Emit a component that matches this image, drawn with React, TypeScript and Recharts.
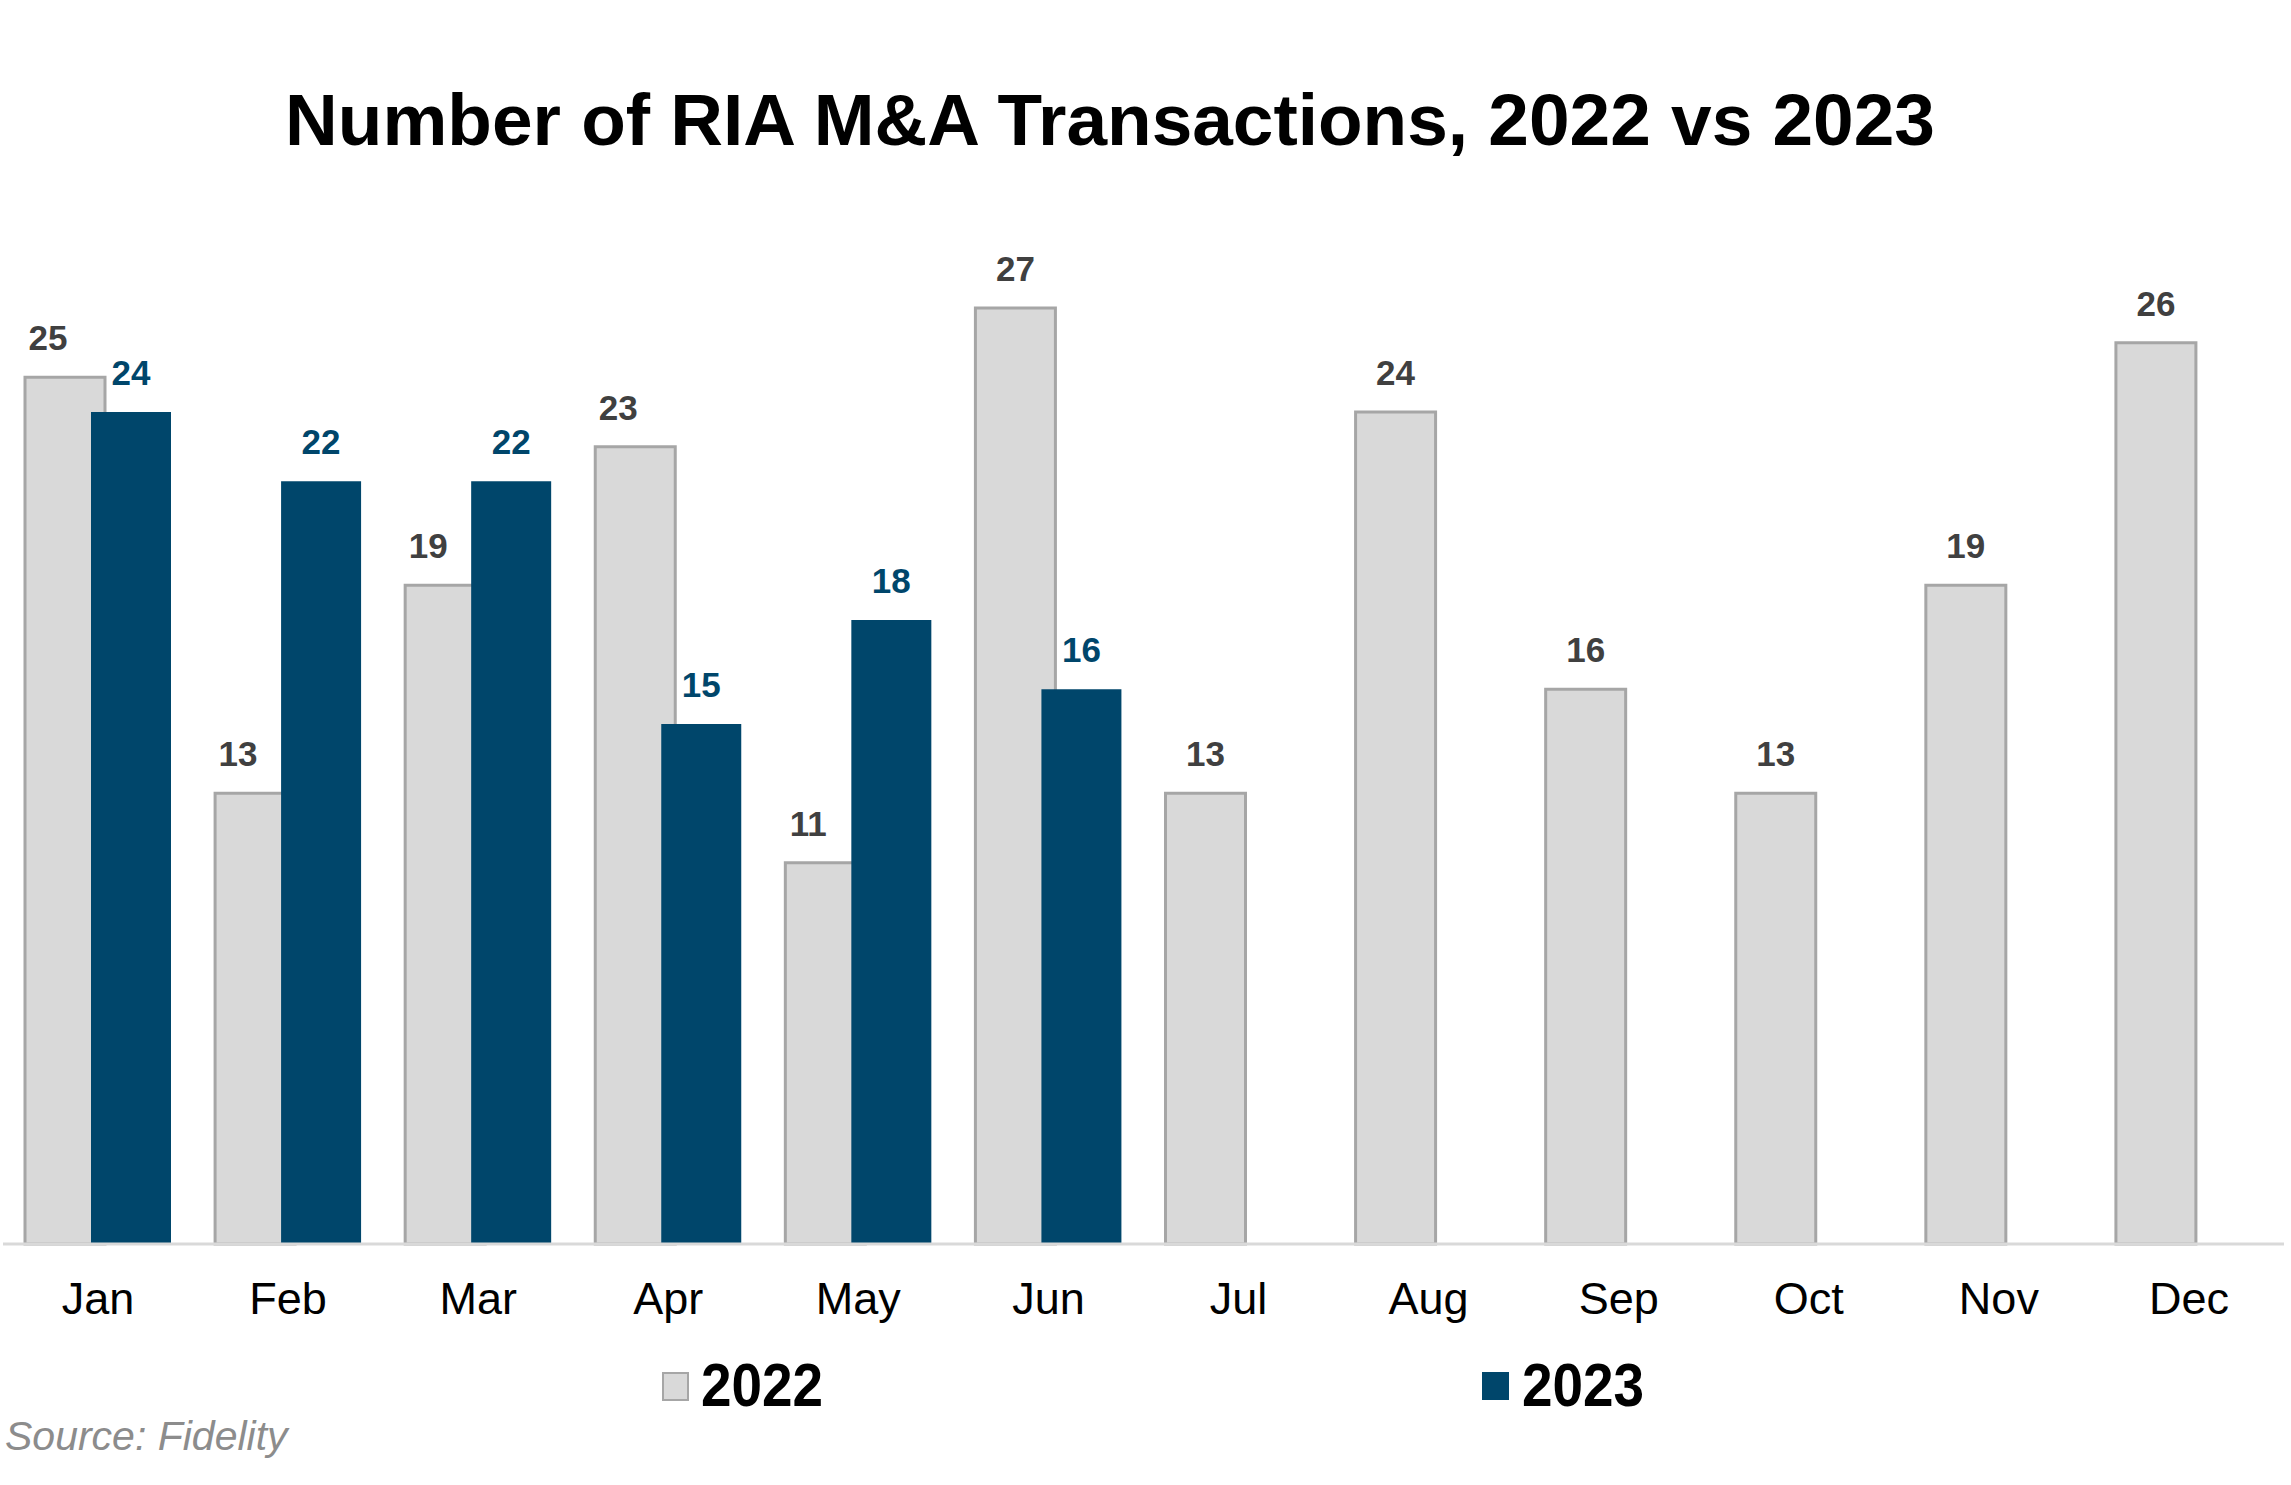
import React from 'react'
import { BarChart, Bar, XAxis, YAxis, LabelList, Legend } from 'recharts'

const months = ['Jan', 'Feb', 'Mar', 'Apr', 'May', 'Jun', 'Jul', 'Aug', 'Sep', 'Oct', 'Nov', 'Dec']
const deals2022 = [25, 13, 19, 23, 11, 27, 13, 24, 16, 13, 19, 26]
const deals2023: (number | null)[] = [24, 22, 22, 15, 18, 16, null, null, null, null, null, null]
const seriesNames = ['2022', '2023']

const GRAY = '#d9d9d9'
const GRAY_EDGE = '#a6a6a6'
const NAVY = '#00466b'
const FONT = '"Liberation Sans", Arial, sans-serif'

const data = months.map((month, i) => ({
  month,
  y2022: deals2022[i],
  y2023: deals2023[i],
}))

// Excel nudges the 2022 label left when the 2023 bar sits close beside it
const label2022 = (props: any) => {
  const { x, y, width, value, index } = props
  if (value == null) return null
  const other = deals2023[index]
  const shift = other != null && value - other < 10 ? -17 : 0
  return (
    <text x={x + width / 2 + shift} y={y - 27} textAnchor="middle" fill="#404040"
      fontFamily={FONT} fontWeight="bold" fontSize={35}>
      {value}
    </text>
  )
}

const label2023 = (props: any) => {
  const { x, y, width, value } = props
  if (value == null) return null
  return (
    <text x={x + width / 2} y={y - 27} textAnchor="middle" fill={NAVY}
      fontFamily={FONT} fontWeight="bold" fontSize={35}>
      {value}
    </text>
  )
}

const MonthTick = (props: any) => {
  const { x, y, payload } = props
  return (
    <text x={x} y={y + 70} textAnchor="middle" fill="#000" fontFamily={FONT} fontSize={45}>
      {payload.value}
    </text>
  )
}

const LegendBox = () => (
  <svg width={2291} height={90}>
    <rect x={663} y={33} width={25} height={27} fill={GRAY} stroke={GRAY_EDGE} strokeWidth={2} />
    <text x={701} y={66} fontFamily={FONT} fontWeight="bold" fontSize={61}
      textLength={122} lengthAdjust="spacingAndGlyphs" fill="#000">{seriesNames[0]}</text>
    <rect x={1482} y={32} width={27} height={28} fill={NAVY} />
    <text x={1522} y={66} fontFamily={FONT} fontWeight="bold" fontSize={61}
      textLength={122} lengthAdjust="spacingAndGlyphs" fill="#000">{seriesNames[1]}</text>
  </svg>
)

export default function App() {
  return (
    <div style={{ position: 'absolute', left: 0, top: 0, width: 2291, height: 1485, background: '#fff' }}>
      <BarChart
        width={2291}
        height={1485}
        data={data}
        margin={{ top: 204, right: 7, bottom: 181, left: 3 }}
        barCategoryGap={22}
        barGap={-14}
      >
        <XAxis
          dataKey="month"
          height={60}
          axisLine={{ stroke: '#d9d9d9', strokeWidth: 3 }}
          tickLine={false}
          tickSize={0}
          tickMargin={0}
          tick={<MonthTick />}
          interval={0}
        />
        <YAxis hide domain={[0, 30]} />
        <Legend
          layout="horizontal"
          verticalAlign="middle"
          align="center"
          wrapperStyle={{ position: 'absolute', left: 0, top: 1340, width: 2291, height: 90 }}
          content={() => <LegendBox />}
        />
        <Bar dataKey="y2022" name={seriesNames[0]} fill={GRAY} stroke={GRAY_EDGE} strokeWidth={3}
          isAnimationActive={false}>
          <LabelList dataKey="y2022" content={label2022} />
        </Bar>
        <Bar dataKey="y2023" name={seriesNames[1]} fill={NAVY} isAnimationActive={false}>
          <LabelList dataKey="y2023" content={label2023} />
        </Bar>
      </BarChart>
      <svg width={2291} height={1485} style={{ position: 'absolute', left: 0, top: 0, pointerEvents: 'none' }}>
        <text x={1110} y={145} textAnchor="middle" fontFamily={FONT} fontWeight="bold" fontSize={73} fill="#000">
          Number of RIA M&amp;A Transactions, 2022 vs 2023
        </text>
        <text x={5} y={1450} fontFamily={FONT} fontStyle="italic" fontSize={41} fill="#8c8c8c">
          Source: Fidelity
        </text>
      </svg>
    </div>
  )
}
